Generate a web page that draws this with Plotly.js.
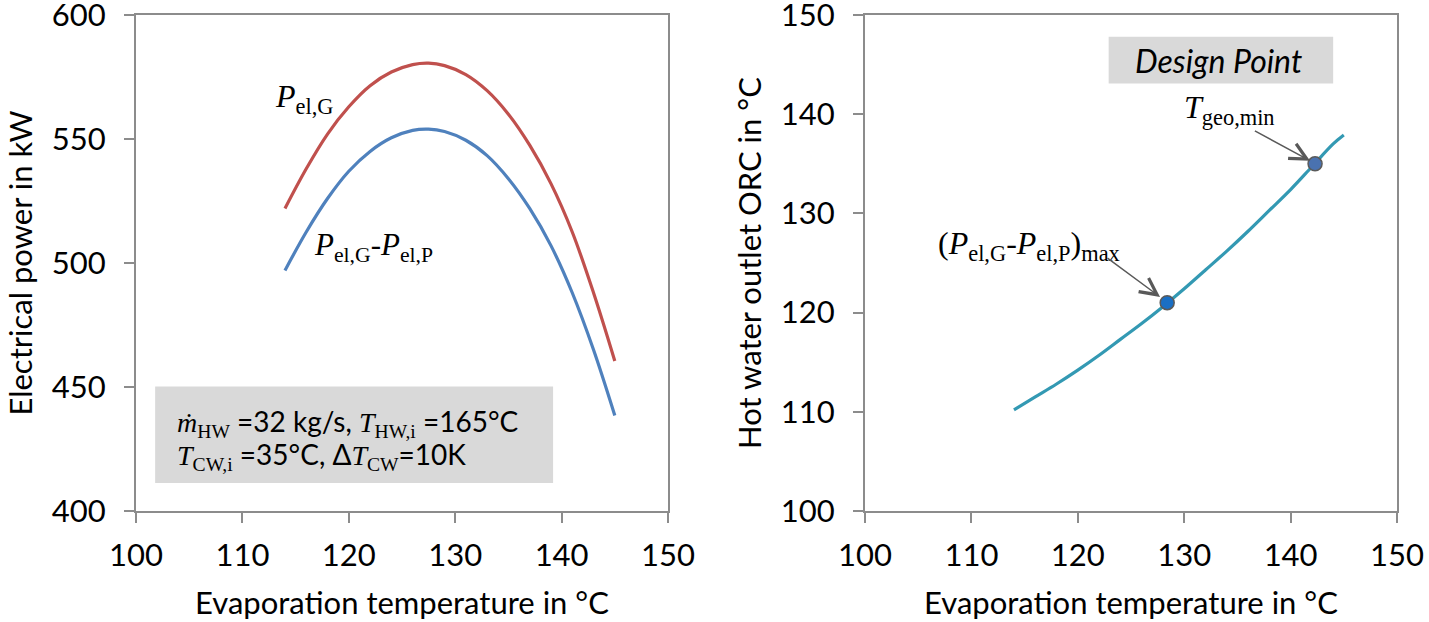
<!DOCTYPE html>
<html>
<head>
<meta charset="utf-8">
<script src="https://cdn.plot.ly/plotly-3.0.1.min.js"></script>
<style>html,body{margin:0;padding:0;background:#fff;}</style>
</head>
<body>
<div id="chart" style="width:1429px;height:622px;"></div>
<script>
// ---- data ----
const evapTemp = [114, 116, 118, 120, 122, 124, 126, 127.5, 129, 131, 133, 135, 137, 139, 141, 143, 145];
const powerGross = [522, 538, 552, 563, 571.5, 577, 580, 580.6, 579.6, 576, 569.5, 560, 547.5, 532, 512.5, 488, 460.5];
const powerNet = [497, 512.5, 526, 537, 545, 550.5, 553.5, 554, 553, 549.5, 543.3, 534, 522, 507, 488, 465, 438.5];

const evapTempOut = [114, 116, 118, 120, 122, 124, 126, 128, 130, 132, 134, 136, 138, 140, 142, 144, 145];
const hotWaterOut = [110.2, 111.5, 112.8, 114.2, 115.7, 117.3, 118.9, 120.6, 122.4, 124.3, 126.2, 128.2, 130.3, 132.4, 134.7, 137.0, 137.9];

const designPointX = [128.4, 142.3];
const designPointY = [121.0, 135.0];
const designPointColors = ['#1a6fc4', '#4a72b0'];

const xTickVals = [100, 110, 120, 130, 140, 150];
const yTickValsLeft = [400, 450, 500, 550, 600];
const yTickValsRight = [100, 110, 120, 130, 140, 150];

const SERIF = 'Liberation Serif, Times New Roman, serif';
const SANS = 'Lato, Carlito, sans-serif';
const AXIS_GRAY = '#8c8c8c';
const TICK_SIZE = 31;
const TITLE_SIZE = 31;

const traces = [
  {x: evapTemp, y: powerGross, type: 'scatter', mode: 'lines', name: 'P_el,G',
   line: {color: '#c0504d', width: 3.2, shape: 'spline'}, xaxis: 'x', yaxis: 'y', hoverinfo: 'x+y'},
  {x: evapTemp, y: powerNet, type: 'scatter', mode: 'lines', name: 'P_el,G - P_el,P',
   line: {color: '#4f81bd', width: 3.2, shape: 'spline'}, xaxis: 'x', yaxis: 'y', hoverinfo: 'x+y'},
  {x: evapTempOut, y: hotWaterOut, type: 'scatter', mode: 'lines', name: 'Hot water outlet',
   line: {color: '#3399b3', width: 3.2, shape: 'spline'}, xaxis: 'x2', yaxis: 'y2', hoverinfo: 'x+y'},
  {x: designPointX, y: designPointY, type: 'scatter', mode: 'markers', name: 'Design points',
   marker: {size: 14, color: designPointColors, line: {color: '#5a5a5a', width: 1.5}},
   xaxis: 'x2', yaxis: 'y2', hoverinfo: 'x+y'}
];

const axisCommon = {
  showline: true, mirror: true, linecolor: AXIS_GRAY, linewidth: 2,
  ticks: 'outside', ticklen: 10, tickwidth: 2, tickcolor: AXIS_GRAY,
  showgrid: false, zeroline: false, automargin: false, fixedrange: true,
  ticklabeloverflow: 'allow',
  tickfont: {family: SANS, size: TICK_SIZE, color: '#000'}
};

const L = 136, R = 32, T = 15, B = 111;
const plotW = 1429 - L - R;

const layout = {
  width: 1429, height: 622,
  margin: {l: L, r: R, t: T, b: B, pad: 0},
  paper_bgcolor: '#ffffff', plot_bgcolor: '#ffffff',
  showlegend: false,
  font: {family: SANS, size: 28, color: '#000'},
  xaxis: Object.assign({}, axisCommon, {
    domain: [0, 532 / plotW], range: [100, 150], tickvals: xTickVals, anchor: 'y',
    ticklabelstandoff: 6,
    title: {text: 'Evaporation temperature in °C', font: {family: SANS, size: TITLE_SIZE, color: '#000'}, standoff: 20}
  }),
  yaxis: Object.assign({}, axisCommon, {
    domain: [0, 1], range: [400, 600], tickvals: yTickValsLeft, anchor: 'x',
    ticklabelstandoff: 12,
    title: {text: 'Electrical power in kW', font: {family: SANS, size: TITLE_SIZE, color: '#000'}, standoff: 10}
  }),
  xaxis2: Object.assign({}, axisCommon, {
    domain: [(865 - L) / plotW, 1], range: [100, 150], tickvals: xTickVals, anchor: 'y2',
    ticklabelstandoff: 6,
    title: {text: 'Evaporation temperature in °C', font: {family: SANS, size: TITLE_SIZE, color: '#000'}, standoff: 20}
  }),
  yaxis2: Object.assign({}, axisCommon, {
    domain: [0, 1], range: [100, 150], tickvals: yTickValsRight, anchor: 'x2',
    ticklabelstandoff: 12,
    title: {text: 'Hot water outlet ORC in °C', font: {family: SANS, size: TITLE_SIZE, color: '#000'}, standoff: 10}
  }),
  shapes: [
    {type: 'rect', xref: 'x', yref: 'y', x0: 101.8, x1: 139.2, y0: 411.3, y1: 450.2,
     fillcolor: '#d9d9d9', line: {width: 0}, layer: 'below'},
    {type: 'rect', xref: 'x2', yref: 'y2', x0: 122.9, x1: 144.0, y0: 143.1, y1: 147.8,
     fillcolor: '#d9d9d9', line: {width: 0}, layer: 'below'}
  ],
  annotations: [
    {xref: 'x', yref: 'y', x: 112.9, y: 566.5, xanchor: 'left', yanchor: 'middle', showarrow: false,
     text: '<i>P</i><sub>el,G</sub>', font: {family: SERIF, size: 32, color: '#000'}},
    {xref: 'x', yref: 'y', x: 116.5, y: 506.5, xanchor: 'left', yanchor: 'middle', showarrow: false,
     text: '<i>P</i><sub>el,G</sub>-<i>P</i><sub>el,P</sub>', font: {family: SERIF, size: 31, color: '#000'}},
    {xref: 'x', yref: 'y', x: 103.7, y: 435.3, xanchor: 'left', yanchor: 'middle', showarrow: false,
     text: '<span style="font-family:Liberation Serif"><i>ṁ</i><sub>HW</sub></span> =32 kg/s, <span style="font-family:Liberation Serif"><i>T</i><sub>HW,i</sub></span> =165°C',
     font: {family: SANS, size: 28, color: '#000'}},
    {xref: 'x', yref: 'y', x: 103.7, y: 422.2, xanchor: 'left', yanchor: 'middle', showarrow: false,
     text: '<span style="font-family:Liberation Serif"><i>T</i><sub>CW,i</sub></span> =35°C, Δ<span style="font-family:Liberation Serif"><i>T</i><sub>CW</sub></span>=10K',
     font: {family: SANS, size: 28, color: '#000'}},
    {xref: 'x2', yref: 'y2', x: 133.2, y: 145.45, xanchor: 'center', yanchor: 'middle', showarrow: false,
     text: '<i>Design Point</i>', font: {family: SANS, size: 32, color: '#000'}},
    {xref: 'x2', yref: 'y2', x: 129.8, y: 140.5, xanchor: 'left', yanchor: 'middle', showarrow: false,
     text: '<i>T</i><sub>geo,min</sub>', font: {family: SERIF, size: 32, color: '#000'}},
    {xref: 'x2', yref: 'y2', x: 106.7, y: 126.8, xanchor: 'left', yanchor: 'middle', showarrow: false,
     text: '(<i>P</i><sub>el,G</sub>-<i>P</i><sub>el,P</sub>)<sub>max</sub>', font: {family: SERIF, size: 32, color: '#000'}},
    {xref: 'x2', yref: 'y2', x: 141.83, y: 135.3, axref: 'x2', ayref: 'y2', ax: 136.5, ay: 138.4,
     text: '', showarrow: true, arrowhead: 5, arrowsize: 2.2, arrowwidth: 1.5, arrowcolor: '#595959'},
    {xref: 'x2', yref: 'y2', x: 127.73, y: 121.58, axref: 'x2', ayref: 'y2', ax: 122.65, ay: 125.6,
     text: '', showarrow: true, arrowhead: 5, arrowsize: 2.2, arrowwidth: 1.5, arrowcolor: '#595959'}
  ]
};

Plotly.newPlot('chart', traces, layout, {displayModeBar: false, staticPlot: true});
</script>
</body>
</html>
